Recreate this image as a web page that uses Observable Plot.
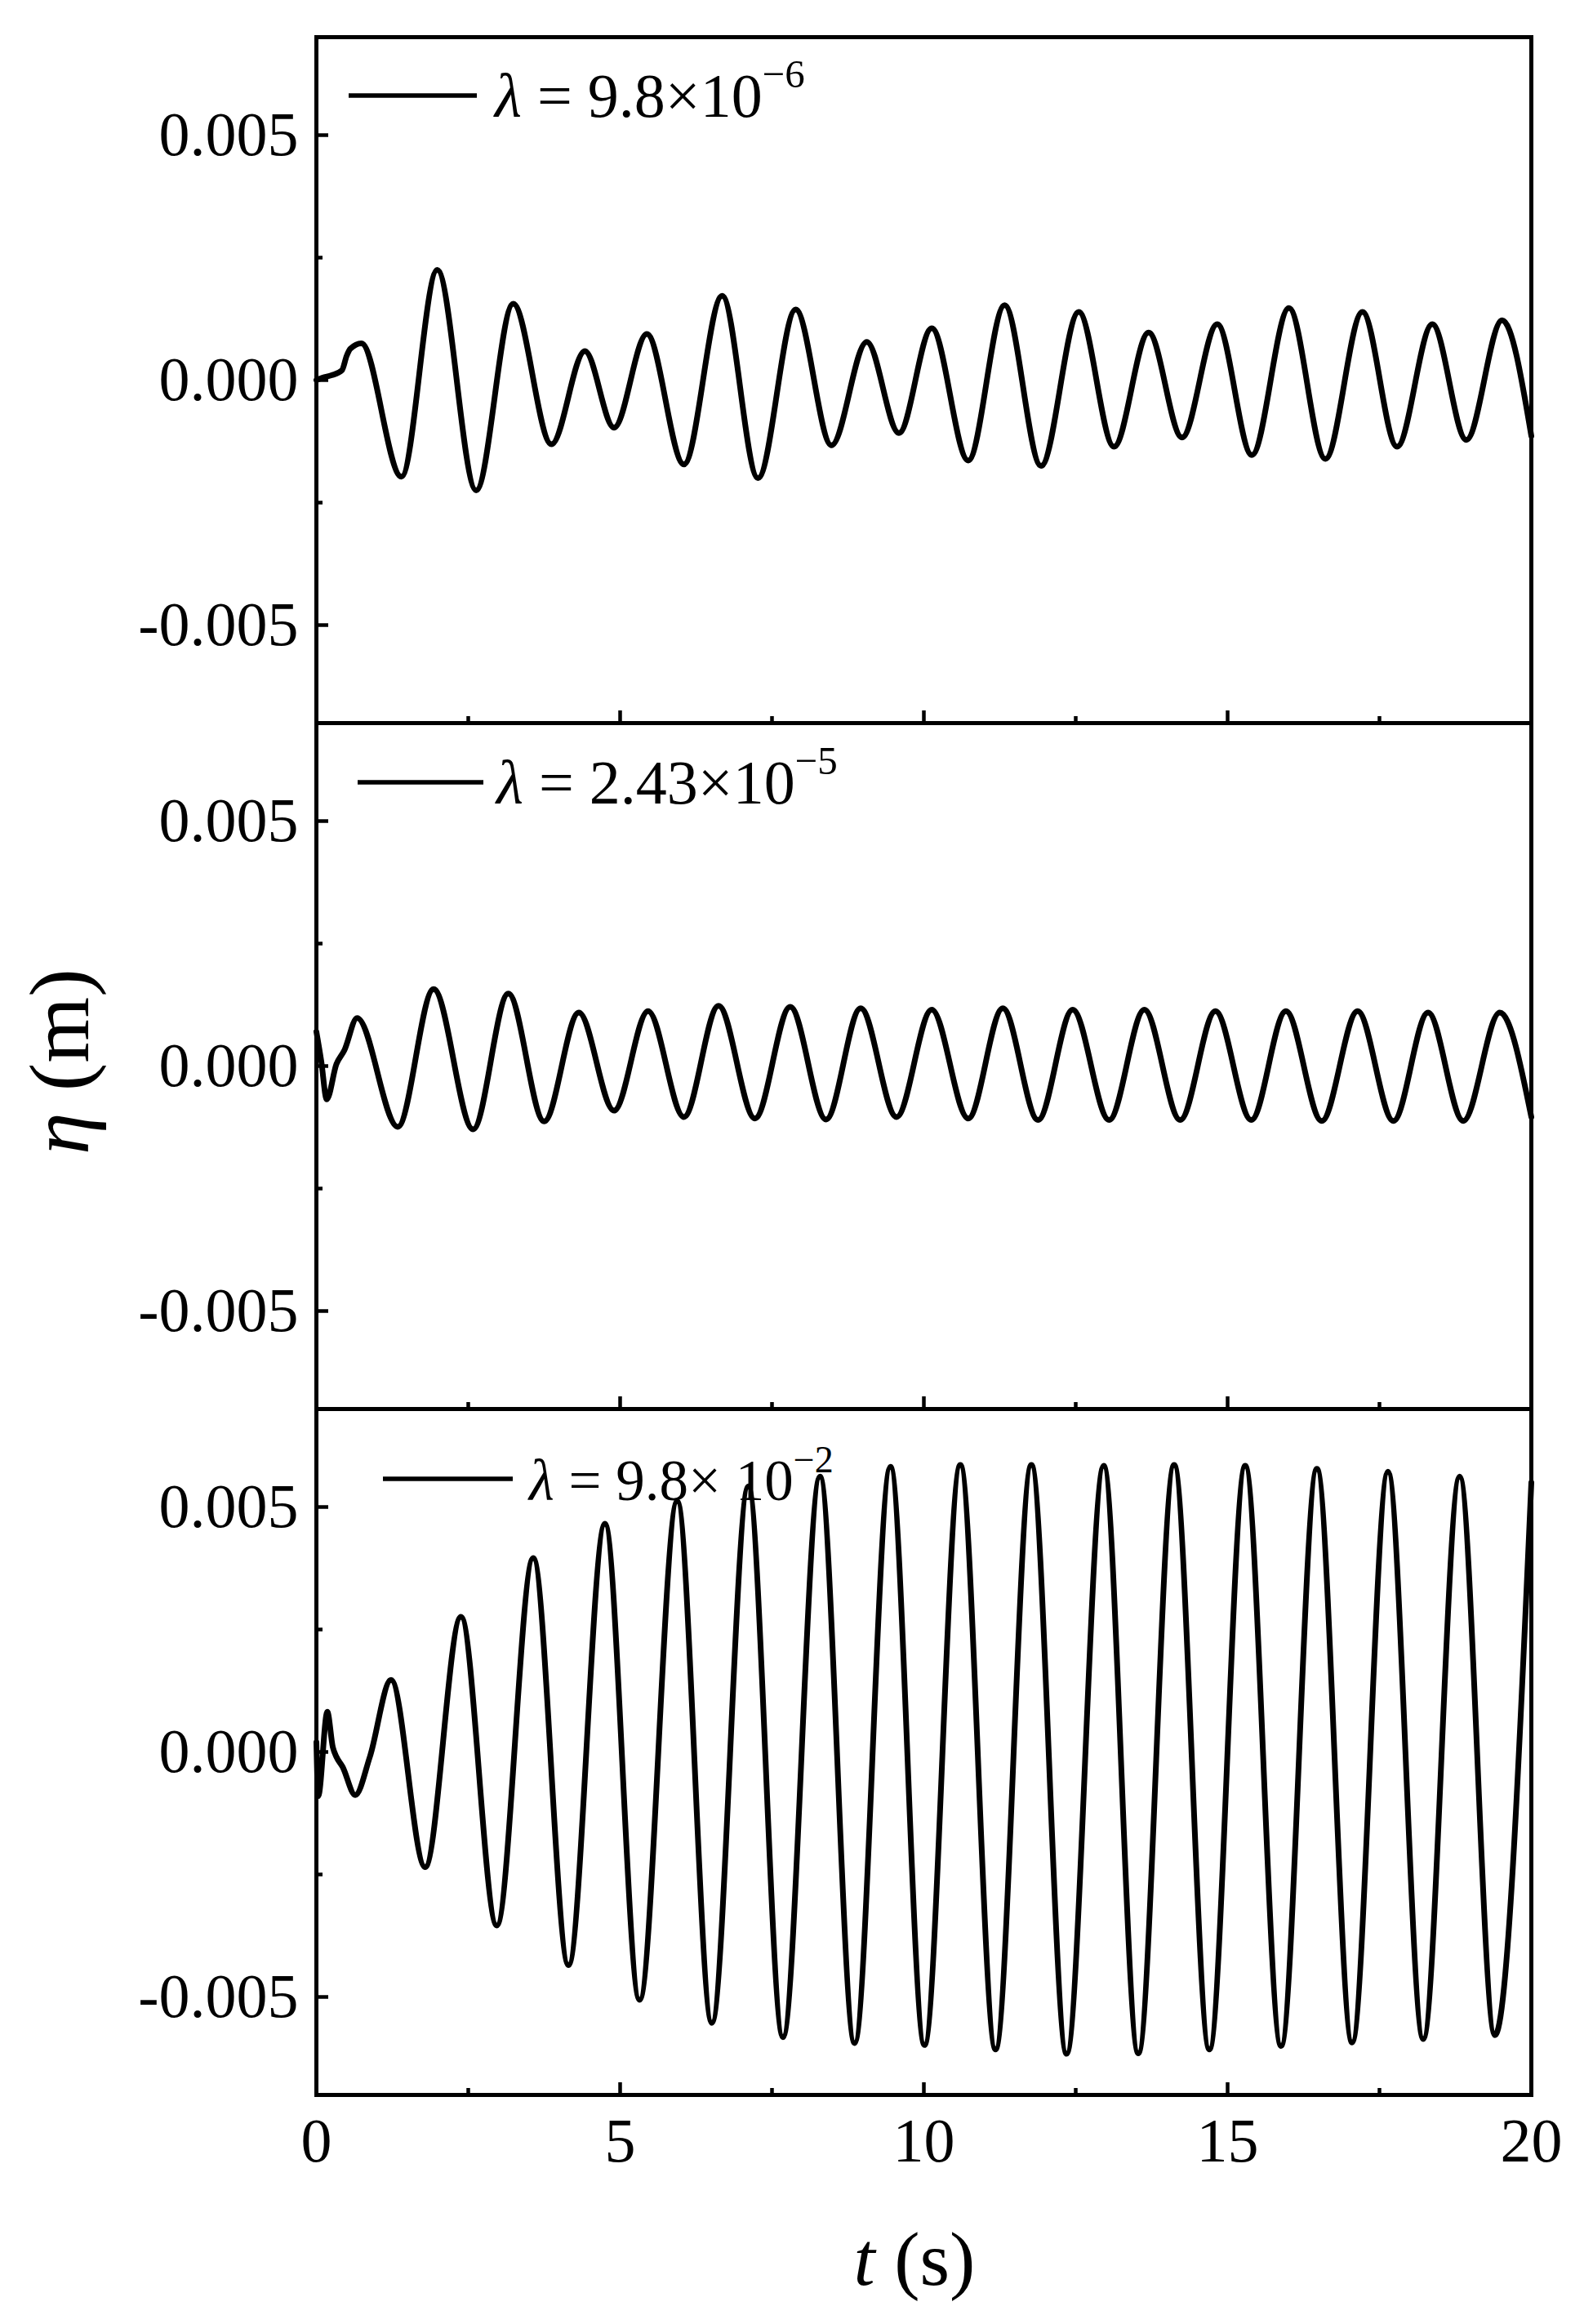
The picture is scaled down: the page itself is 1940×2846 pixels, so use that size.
<!DOCTYPE html>
<html>
<head>
<meta charset="utf-8">
<script src="https://cdn.jsdelivr.net/npm/d3@7"></script>
<script src="https://cdn.jsdelivr.net/npm/@observablehq/plot@0.6"></script>
<style>
  body { margin: 0; background: #ffffff; }
  #chart { position: relative; width: 1940px; height: 2846px; overflow: hidden; background: #ffffff; }
  #chart svg { display: block; }
</style>
</head>
<body>
<div id="chart"></div>
<script>
// ---------- data (t in s, eta in m) ----------
const t1 = [0, 0.1, 0.25, 0.42, 0.5, 0.56, 0.74, 1.40, 1.99, 2.63, 3.24, 3.87, 4.42, 4.90, 5.44, 6.05, 6.68,
  7.27, 7.89, 8.48, 9.06, 9.59, 10.13, 10.73, 11.33, 11.93, 12.55, 13.13, 13.70, 14.25, 14.83, 15.40, 16.01,
  16.61, 17.22, 17.79, 18.37, 18.93, 19.52, 20];
const eta1 = [0, 0.00005, 0.0001, 0.0002, 0.0005, 0.00064, 0.00075, -0.00197, 0.00225, -0.00225, 0.00156, -0.00131,
  0.00059, -0.00097, 0.00094, -0.00172, 0.00172, -0.002, 0.00144, -0.00133, 0.00078, -0.00108, 0.00106, -0.00164,
  0.00153, -0.00175, 0.00139, -0.00136, 0.00097, -0.00117, 0.00114, -0.00153, 0.00147, -0.00161, 0.00139, -0.00136,
  0.00114, -0.00122, 0.00122, -0.00114];

const t2 = [0, 0.08, 0.17, 0.33, 0.46, 0.67, 1.34, 1.93, 2.58, 3.16, 3.75, 4.32, 4.90, 5.46, 6.05, 6.62,
  7.22, 7.80, 8.39, 8.96, 9.55, 10.13, 10.73, 11.30, 11.88, 12.45, 13.05, 13.63, 14.22, 14.80, 15.39, 15.96,
  16.55, 17.14, 17.73, 18.30, 18.88, 19.48, 20];
const eta2 = [0.0007, 0.0001, -0.00068, 0.00004, 0.00032, 0.00098, -0.00124, 0.00157, -0.00129, 0.00148, -0.00113,
  0.00109, -0.00091, 0.00112, -0.00104, 0.00123, -0.00107, 0.00121, -0.00109, 0.00118, -0.00104, 0.00115, -0.00107,
  0.00118, -0.0011, 0.00115, -0.0011, 0.00115, -0.0011, 0.00112, -0.0011, 0.00112, -0.00112, 0.00112, -0.00112,
  0.00109, -0.00112, 0.00109, -0.00104];

const t3 = [0, 0.03, 0.18, 0.27, 0.33, 0.43, 0.64, 0.88, 1.23, 1.79, 2.38, 2.97, 3.57, 4.15, 4.75, 5.32, 5.94,
  6.51, 7.11, 7.68, 8.29, 8.86, 9.45, 10.01, 10.60, 11.18, 11.77, 12.35, 12.96, 13.53, 14.12, 14.70, 15.29,
  15.88, 16.47, 17.05, 17.64, 18.22, 18.82, 19.40, 20];
const eta3 = [0.0002, -0.0009, 0.00082, 0.0001, -0.0001, -0.0003, -0.00088, -0.0001, 0.00147, -0.00235, 0.00276,
  -0.00354, 0.00396, -0.00435, 0.00466, -0.00506, 0.00512, -0.00553, 0.00542, -0.00582, 0.00562, -0.00594,
  0.00582, -0.00598, 0.00586, -0.00607, 0.00586, -0.00616, 0.00584, -0.00615, 0.00586, -0.00607, 0.00584,
  -0.006, 0.00578, -0.00593, 0.00572, -0.00586, 0.00562, -0.00578, 0.0055];

const legendBase = ["9.8×10", "2.43×10", "9.8× 10"];
const legendExp = ["−6", "−5", "−2"];

const xMajorTicks = [0, 5, 10, 15, 20];
const xMinorTicks = [2.5, 7.5, 12.5, 17.5];
const yMajorTicks = [-0.005, 0, 0.005];
const yMinorTicks = [-0.0025, 0.0025];

const xTitle = ["t", " (s)"];
const yTitle = ["η", " (m)"];

// ---------- layout ----------
const FONT = "'Liberation Serif', 'Times New Roman', serif";
const W = 1940, ML = 387, MR = 65, PH = 840;
const panels = [
  {t: t1, eta: eta1, mt: 45, mb: 0, showX: false, leg: {x1: 427, x2: 584, y: 117, tx: 606, ty: 143, fs: 76, sfs: 49, sdy: -36}},
  {t: t2, eta: eta2, mt: 0, mb: 0, showX: false, leg: {x1: 438, x2: 592, y: 73, tx: 608, ty: 99, fs: 76, sfs: 49, sdy: -36}},
  {t: t3, eta: eta3, mt: 0, mb: 281, showX: true, leg: {x1: 469, x2: 628, y: 86, tx: 648, ty: 112, fs: 71, sfs: 46, sdy: -34}}
];

const chart = document.getElementById("chart");

panels.forEach((p, i) => {
  const data = p.t.map((t, k) => ({t, eta: p.eta[k]}));
  const svg = Plot.plot({
    width: W,
    height: p.mt + PH + p.mb,
    marginLeft: ML, marginRight: MR, marginTop: p.mt, marginBottom: p.mb,
    x: {domain: [0, 20]},
    y: {domain: [-0.007, 0.007]},
    style: {fontFamily: FONT, fontSize: "76px", color: "black", background: "transparent", overflow: "visible"},
    marks: [
      Plot.axisY(yMajorTicks, {fill: "none", tickSize: 15, dx: 15, strokeWidth: 4.5, label: null}),
      Plot.axisY(yMinorTicks, {fill: "none", tickSize: 8, dx: 8, strokeWidth: 4.5, label: null}),
      Plot.axisY(yMajorTicks, {tickSize: 0, tickPadding: 22, tickFormat: d => d.toFixed(3), label: null}),
      Plot.axisX(xMajorTicks, {fill: "none", tickSize: 15, dy: -15, strokeWidth: 4.5, label: null}),
      Plot.axisX(xMinorTicks, {fill: "none", tickSize: 8, dy: -8, strokeWidth: 4.5, label: null}),
      p.showX ? Plot.axisX(xMajorTicks, {tickSize: 0, tickPadding: 28, tickFormat: d => String(d), label: null}) : null,
      Plot.frame({stroke: "black", strokeWidth: 5}),
      Plot.line(data, {x: "t", y: "eta", curve: "monotone-x", stroke: "black", strokeWidth: 7})
    ]
  });
  chart.appendChild(svg);

  // legend (drawn beneath the curve, as in the reference)
  const g = d3.select(svg).insert("g", "g[aria-label='line']").attr("class", "legend");
  g.append("line")
    .attr("x1", p.leg.x1).attr("x2", p.leg.x2).attr("y1", p.leg.y).attr("y2", p.leg.y)
    .attr("stroke", "black").attr("stroke-width", 5.5);
  const txt = g.append("text")
    .attr("x", p.leg.tx).attr("y", p.leg.ty)
    .attr("text-anchor", "start")
    .attr("font-family", FONT).attr("font-size", p.leg.fs).attr("fill", "black");
  txt.append("tspan").attr("font-style", "italic").text("λ");
  txt.append("tspan").text(" = " + legendBase[i]);
  txt.append("tspan").attr("font-size", p.leg.sfs).attr("dy", p.leg.sdy).text(legendExp[i]);

  if (i === 1) {
    // y-axis title, centred on the middle panel
    const yt = d3.select(svg).append("text")
      .attr("transform", "translate(84,415) rotate(-90)")
      .attr("y", 24)
      .attr("text-anchor", "middle")
      .attr("font-family", FONT).attr("font-size", 104).attr("fill", "black");
    yt.append("tspan").attr("font-style", "italic").text(yTitle[0]);
    yt.append("tspan").text(yTitle[1]);
  }
  if (i === 2) {
    const xt = d3.select(svg).append("text")
      .attr("x", 1120).attr("y", 1073)
      .attr("text-anchor", "middle")
      .attr("font-family", FONT).attr("font-size", 94).attr("fill", "black");
    xt.append("tspan").attr("font-style", "italic").text(xTitle[0]);
    xt.append("tspan").text(xTitle[1]);
  }
});
</script>
</body>
</html>
